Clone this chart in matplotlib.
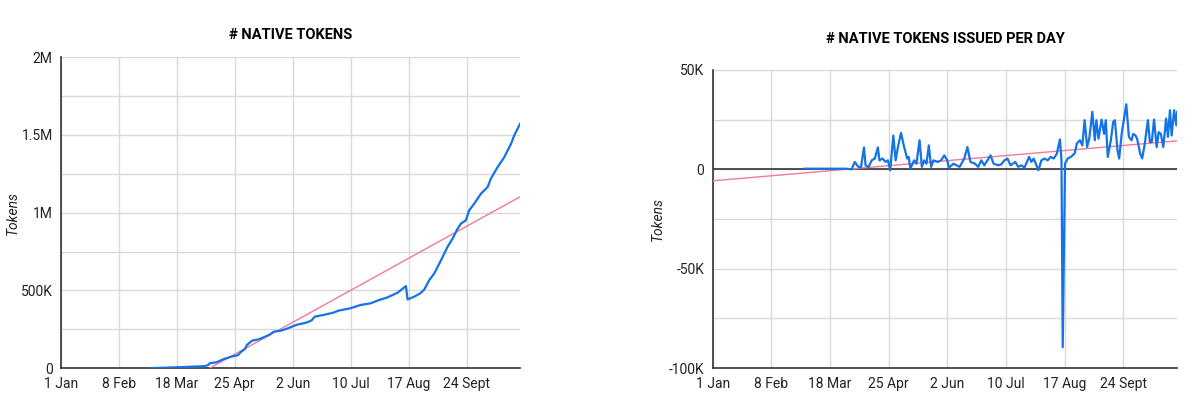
import matplotlib
matplotlib.use("Agg")
import matplotlib.pyplot as plt
import pandas as pd
import numpy as np

plt.rcParams['font.family'] = ['Roboto', 'DejaVu Sans']

# x axis: days since 1 Jan
tick_days = [0, 38, 76, 114, 152, 190, 228, 266]
tick_labels = ["1 Jan", "8 Feb", "18 Mar", "25 Apr", "2 Jun", "10 Jul", "17 Aug", "24 Sept"]
x_end_day = 301

# cumulative native tokens
cum_days = [58.5, 76.7, 94.4, 96.6, 97.7, 102, 106.6, 112, 116, 118.3, 120.5, 122, 125.4,
            129.8, 133, 136.5, 139.8, 144.2, 148.7, 154.2, 160.9, 164.2, 166.4, 172, 178.6,
            182, 189.7, 196.3, 203, 208.5, 214, 220.7, 226.2, 227.3, 231.5, 235.5, 238.2,
            241.5, 244.8, 249.2, 253.5, 256.8, 260.1, 262.3, 265.5, 267.7, 271, 275.4,
            279.8, 281.9, 286.3, 290.7, 295.1, 297.2, 301]
cum_vals = [0, 6e3, 13e3, 21e3, 32e3, 38e3, 58e3, 75e3, 83e3, 107e3, 122e3, 150e3, 177e3,
            186e3, 199e3, 214e3, 235e3, 241e3, 256e3, 278e3, 293e3, 306e3, 331e3, 342e3, 357e3,
            370e3, 385e3, 406e3, 417e3, 438e3, 455e3, 485e3, 528e3, 442e3, 459e3, 481e3, 505e3,
            566e3, 609e3, 694e3, 780e3, 833e3, 897e3, 930e3, 951e3, 1015e3, 1058e3, 1122e3,
            1165e3, 1218e3, 1293e3, 1357e3, 1442e3, 1496e3, 1571e3]
cum_trend_days = [0, 301]
cum_trend_vals = [-528e3, 1102e3]

# native tokens issued per day
day_days = [59.4, 66, 72, 79, 86, 90, 92, 94, 96, 98, 99, 101, 103, 105, 107, 108, 110, 112,
            113.5, 115, 117, 118.5, 120, 122, 124, 126, 127, 128, 130.5, 132, 134, 135.5, 137,
            138.5, 140, 141.5, 143, 146, 148, 150, 152, 153, 156, 158, 160, 163, 165, 167,
            170, 172, 174, 176, 178, 180, 182, 185, 187, 189, 191, 193, 196, 198, 200, 202,
            205, 206.5, 208, 211, 213, 215, 217, 219, 221, 223, 225, 226, 226.8, 228.3, 230,
            232, 234.5, 236, 238, 239.5, 241, 242.6, 244, 246, 247.6, 248.6, 250, 252, 253.6,
            254.7, 256, 258, 259.5, 260.6, 262.3, 263.4, 265, 268, 269.7, 271.4, 272.5, 274,
            275, 277, 278.3, 280, 282, 283.3, 284.5, 286, 287.7, 289, 290.4, 292, 293.8, 295,
            296.3, 297.4, 299, 300.4, 301]
day_vals = [300, 300, 300, 300, 300, 0, 3.7e3, 1.5e3, 800, 11e3, 2e3, 1.2e3, 4.5e3, 5.4e3,
            11e3, 4.5e3, 5.4e3, 3.7e3, 4.5e3, -500, 17e3, 4.5e3, 11.2e3, 18.3e3, 11.2e3, 5.4e3,
            6.2e3, 300, 4.5e3, 2.8e3, 14.6e3, 1.2e3, 4.5e3, 2.8e3, 12e3, 1.2e3, 4.5e3, 3.7e3,
            4.5e3, 7e3, 4.5e3, 800, 2.8e3, 2e3, 1.2e3, 5.4e3, 11.2e3, 3.7e3, 2.8e3, 1.2e3,
            4.5e3, 2e3, 4.5e3, 7e3, 2.8e3, 2e3, 2.5e3, 4.5e3, 5.4e3, 2e3, 3.7e3, 1.2e3, 2e3,
            800, 6.2e3, 3.7e3, 5.4e3, -500, 4.5e3, 5.4e3, 4.5e3, 6.2e3, 5.4e3, 7.9e3, 15e3,
            4.5e3, -89.5e3, 2.8e3, 5.4e3, 6.2e3, 7.9e3, 13e3, 14.6e3, 12e3, 24.7e3, 11.2e3,
            15.4e3, 28.9e3, 14.6e3, 24.7e3, 15.4e3, 25e3, 17.8e3, 24.7e3, 6.2e3, 14.6e3, 23.8e3,
            24.7e3, 9.5e3, 5.4e3, 17.8e3, 32.7e3, 16.3e3, 14.6e3, 17.8e3, 17e3, 15.4e3, 7.9e3,
            5.4e3, 12.9e3, 24.7e3, 13.7e3, 13.7e3, 25e3, 11.2e3, 18.7e3, 17.8e3, 11.2e3,
            25.5e3, 16.3e3, 29.7e3, 17e3, 29.7e3, 22.1e3, 28.9e3]
day_trend_days = [0, 301]
day_trend_vals = [-5.8e3, 14.3e3]

start = pd.Timestamp("2022-01-01")


def to_dates(days):
    return start + pd.to_timedelta(np.asarray(days, dtype=float), unit="D")


BLUE = "#1473e6"
PINK = "#f4799a"
GRID = "#d9d9d9"
AXIS = "#333333"


def style_axes(ax, yticks, ylabels, ygrid, ylim):
    ax.set_xlim(to_dates([0])[0], to_dates([x_end_day])[0])
    ax.set_ylim(*ylim)
    ax.set_xticks(to_dates(tick_days))
    ax.set_xticklabels(tick_labels)
    ax.set_yticks(yticks)
    ax.set_yticklabels(ylabels)
    ax.set_yticks(ygrid, minor=True)
    ax.grid(True, which="major", axis="both", color=GRID, lw=1.0, zorder=0)
    ax.grid(True, which="minor", axis="y", color=GRID, lw=1.0, zorder=0)
    ax.tick_params(which="both", length=0, labelsize=10, colors="#222222", pad=4)
    ax.tick_params(axis="x", pad=6)
    ax.tick_params(axis="y", pad=6)
    for s in ["top", "right"]:
        ax.spines[s].set_visible(False)
    for s in ["left", "bottom"]:
        ax.spines[s].set_color(AXIS)
        ax.spines[s].set_linewidth(1.2)
    ax.set_ylabel("Tokens", fontstyle="italic", fontsize=10, color="#222222")
    ax.set_axisbelow(True)


fig = plt.figure(figsize=(12, 4.07), dpi=100)

# left chart: cumulative
ax1 = fig.add_axes([0.0508, 0.0954, 0.3825, 0.764])
ax1.plot(to_dates(cum_trend_days), cum_trend_vals, color=PINK, lw=1.0, zorder=3)
ax1.plot(to_dates(cum_days), cum_vals, color=BLUE, lw=1.6, zorder=4)
style_axes(ax1, [0, 500e3, 1e6, 1.5e6, 2e6], ["0", "500K", "1M", "1.5M", "2M"],
           [250e3, 750e3, 1.25e6, 1.75e6], (0, 2e6))
ax1.yaxis.set_label_coords(-0.09, 0.5)
ax1.set_title("# NATIVE TOKENS", fontsize=10.5, fontweight="bold", pad=13)

# right chart: per day
ax2 = fig.add_axes([0.594, 0.0954, 0.387, 0.733])
ax2.axhline(0, color=AXIS, lw=1.2, zorder=2)
ax2.plot(to_dates(day_trend_days), day_trend_vals, color=PINK, lw=1.0, zorder=3)
ax2.plot(to_dates(day_days), day_vals, color=BLUE, lw=1.6, zorder=4)
style_axes(ax2, [-100e3, -50e3, 0, 50e3], ["-100K", "-50K", "0", "50K"],
           [-75e3, -25e3, 25e3], (-100e3, 50e3))
ax2.yaxis.set_label_coords(-0.103, 0.5)
ax2.set_title("# NATIVE TOKENS ISSUED PER DAY", fontsize=10.5, fontweight="bold", pad=19)

fig.savefig("out.png", dpi=100)
